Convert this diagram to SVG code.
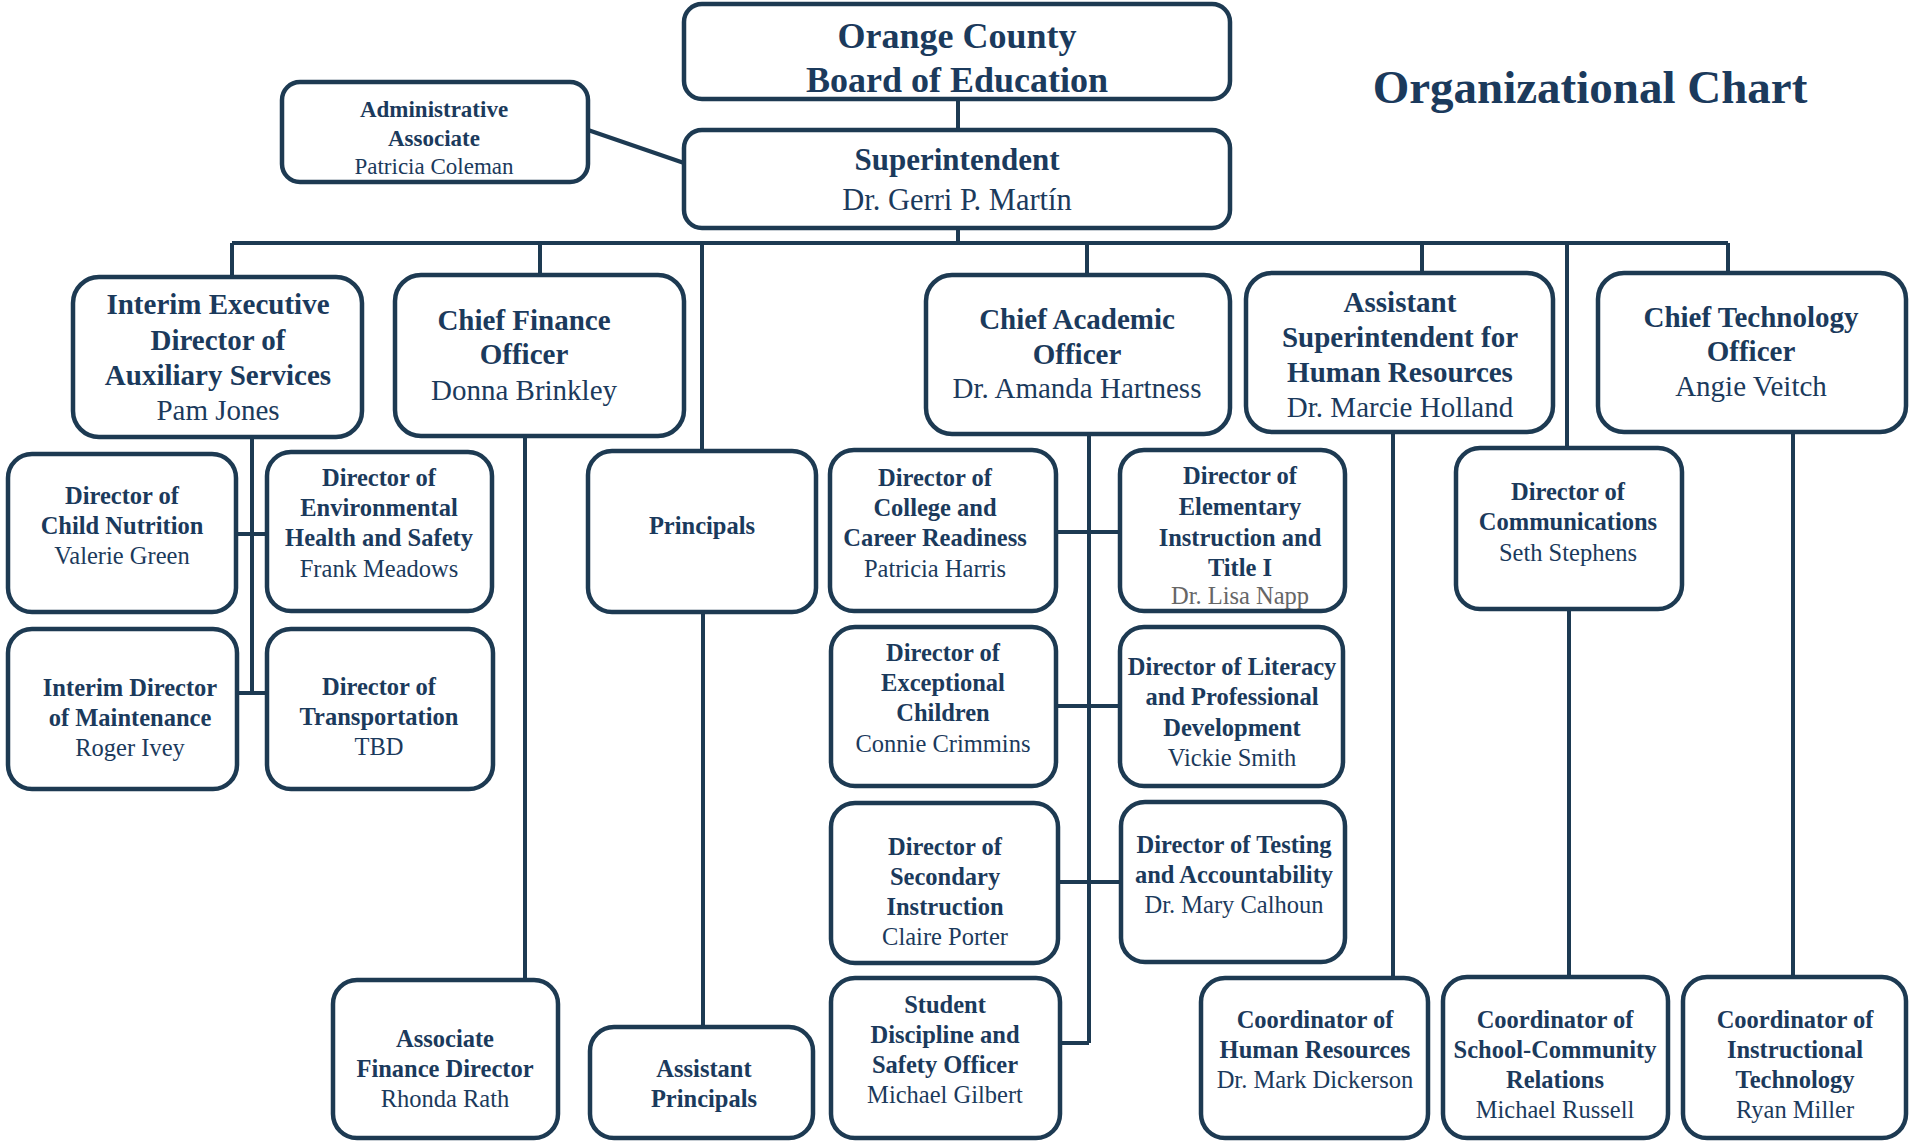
<svg xmlns="http://www.w3.org/2000/svg" width="1909" height="1142" viewBox="0 0 1909 1142">
<style>
.box{fill:#fff;stroke:#1d3a52;stroke-width:4.5}
.ln{fill:none;stroke:#1d3a52;stroke-width:4}
text{font-family:"Liberation Serif","Times New Roman",serif;fill:#1b3a5c;text-anchor:middle}
.b{font-weight:bold}
.t1{font-size:29px}
.t2{font-size:24.5px}
.gr{fill:#666}
</style>
<rect width="1909" height="1142" fill="#fff"/>
<text x="1590" y="103" class="b" style="font-size:47px">Organizational Chart</text>
<g id="connectors">
<path class="ln" d="M958 99V130M588 130L684 163M958 228V243M232 243H1728M232 243V277M540 243V275M702 243V451M1087 243V275M1422 243V273M1567 243V448M1728 243V273"/>
<path class="ln" d="M252 437V693M236 534H267M237 693H267M525 436V980M703 612V1027"/>
<path class="ln" d="M1089 434V1043M1056 532H1120M1056 706H1120M1058 882H1121M1060 1043H1089"/>
<path class="ln" d="M1393 432V978M1569 609V977M1793 432V977"/>
</g>
<g id="board"><rect class="box" x="684" y="4" width="546" height="95" rx="18"/>
<text x="957" y="48" class="b" style="font-size:36px">Orange County</text>
<text x="957" y="92" class="b" style="font-size:36px">Board of Education</text></g>
<g id="superintendent"><rect class="box" x="684" y="130" width="546" height="98" rx="18"/>
<text x="957" y="170" class="b" style="font-size:31px">Superintendent</text>
<text x="957" y="210" style="font-size:30.5px">Dr. Gerri P. Martín</text></g>
<g id="admin"><rect class="box" x="282" y="82" width="306" height="100" rx="18"/>
<text x="434" y="117" class="b" style="font-size:23px">Administrative</text>
<text x="434" y="146" class="b" style="font-size:23px">Associate</text>
<text x="434" y="174" style="font-size:23px">Patricia Coleman</text></g>
<g id="interim-exec"><rect class="box" x="73" y="277" width="289" height="160" rx="26"/>
<text x="218" y="314" class="b t1">Interim Executive</text>
<text x="218" y="350" class="b t1">Director of</text>
<text x="218" y="385" class="b t1">Auxiliary Services</text>
<text x="218" y="420" class="t1">Pam Jones</text></g>
<g id="cfo"><rect class="box" x="395" y="275" width="289" height="161" rx="26"/>
<text x="524" y="330" class="b t1">Chief Finance</text>
<text x="524" y="364" class="b t1">Officer</text>
<text x="524" y="400" class="t1">Donna Brinkley</text></g>
<g id="cao"><rect class="box" x="926" y="275" width="304" height="159" rx="26"/>
<text x="1077" y="329" class="b t1">Chief Academic</text>
<text x="1077" y="364" class="b t1">Officer</text>
<text x="1077" y="398" class="t1">Dr. Amanda Hartness</text></g>
<g id="asst-supt-hr"><rect class="box" x="1246" y="273" width="307" height="159" rx="26"/>
<text x="1400" y="312" class="b t1">Assistant</text>
<text x="1400" y="347" class="b t1">Superintendent for</text>
<text x="1400" y="382" class="b t1">Human Resources</text>
<text x="1400" y="417" class="t1">Dr. Marcie Holland</text></g>
<g id="cto"><rect class="box" x="1598" y="273" width="308" height="159" rx="26"/>
<text x="1751" y="327" class="b t1">Chief Technology</text>
<text x="1751" y="361" class="b t1">Officer</text>
<text x="1751" y="396" class="t1">Angie Veitch</text></g>
<g id="child-nutrition"><rect class="box" x="8" y="454" width="228" height="158" rx="24"/>
<text x="122" y="504" class="b t2">Director of</text>
<text x="122" y="534" class="b t2">Child Nutrition</text>
<text x="122" y="564" class="t2">Valerie Green</text></g>
<g id="env-health"><rect class="box" x="267" y="452" width="225" height="159" rx="24"/>
<text x="379" y="486" class="b t2">Director of</text>
<text x="379" y="516" class="b t2">Environmental</text>
<text x="379" y="546" class="b t2">Health and Safety</text>
<text x="379" y="577" class="t2">Frank Meadows</text></g>
<g id="maintenance"><rect class="box" x="8" y="629" width="229" height="160" rx="24"/>
<text x="130" y="696" class="b t2">Interim Director</text>
<text x="130" y="726" class="b t2">of Maintenance</text>
<text x="130" y="756" class="t2">Roger Ivey</text></g>
<g id="transportation"><rect class="box" x="267" y="629" width="226" height="160" rx="24"/>
<text x="379" y="695" class="b t2">Director of</text>
<text x="379" y="725" class="b t2">Transportation</text>
<text x="379" y="755" class="t2">TBD</text></g>
<g id="principals"><rect class="box" x="588" y="451" width="228" height="161" rx="24"/>
<text x="702" y="534" class="b t2">Principals</text></g>
<g id="college-career"><rect class="box" x="830" y="450" width="226" height="161" rx="24"/>
<text x="935" y="486" class="b t2">Director of</text>
<text x="935" y="516" class="b t2">College and</text>
<text x="935" y="546" class="b t2">Career Readiness</text>
<text x="935" y="577" class="t2">Patricia Harris</text></g>
<g id="elementary"><rect class="box" x="1120" y="450" width="225" height="161" rx="24"/>
<text x="1240" y="484" class="b t2">Director of</text>
<text x="1240" y="515" class="b t2">Elementary</text>
<text x="1240" y="546" class="b t2">Instruction and</text>
<text x="1240" y="576" class="b t2">Title I</text>
<text x="1240" y="604" class="t2 gr">Dr. Lisa Napp</text></g>
<g id="exceptional"><rect class="box" x="831" y="627" width="225" height="159" rx="24"/>
<text x="943" y="661" class="b t2">Director of</text>
<text x="943" y="691" class="b t2">Exceptional</text>
<text x="943" y="721" class="b t2">Children</text>
<text x="943" y="752" class="t2">Connie Crimmins</text></g>
<g id="literacy"><rect class="box" x="1120" y="627" width="223" height="159" rx="24"/>
<text x="1232" y="675" class="b t2">Director of Literacy</text>
<text x="1232" y="705" class="b t2">and Professional</text>
<text x="1232" y="736" class="b t2">Development</text>
<text x="1232" y="766" class="t2">Vickie Smith</text></g>
<g id="secondary"><rect class="box" x="831" y="803" width="227" height="160" rx="24"/>
<text x="945" y="855" class="b t2">Director of</text>
<text x="945" y="885" class="b t2">Secondary</text>
<text x="945" y="915" class="b t2">Instruction</text>
<text x="945" y="945" class="t2">Claire Porter</text></g>
<g id="testing"><rect class="box" x="1121" y="802" width="224" height="160" rx="24"/>
<text x="1234" y="853" class="b t2">Director of Testing</text>
<text x="1234" y="883" class="b t2">and Accountability</text>
<text x="1234" y="913" class="t2">Dr. Mary Calhoun</text></g>
<g id="discipline"><rect class="box" x="831" y="978" width="229" height="160" rx="24"/>
<text x="945" y="1013" class="b t2">Student</text>
<text x="945" y="1043" class="b t2">Discipline and</text>
<text x="945" y="1073" class="b t2">Safety Officer</text>
<text x="945" y="1103" class="t2">Michael Gilbert</text></g>
<g id="assoc-finance"><rect class="box" x="333" y="980" width="225" height="158" rx="24"/>
<text x="445" y="1047" class="b t2">Associate</text>
<text x="445" y="1077" class="b t2">Finance Director</text>
<text x="445" y="1107" class="t2">Rhonda Rath</text></g>
<g id="asst-principals"><rect class="box" x="590" y="1027" width="223" height="111" rx="24"/>
<text x="704" y="1077" class="b t2">Assistant</text>
<text x="704" y="1107" class="b t2">Principals</text></g>
<g id="communications"><rect class="box" x="1456" y="448" width="226" height="161" rx="24"/>
<text x="1568" y="500" class="b t2">Director of</text>
<text x="1568" y="530" class="b t2">Communications</text>
<text x="1568" y="561" class="t2">Seth Stephens</text></g>
<g id="coord-hr"><rect class="box" x="1201" y="978" width="227" height="160" rx="24"/>
<text x="1315" y="1028" class="b t2">Coordinator of</text>
<text x="1315" y="1058" class="b t2">Human Resources</text>
<text x="1315" y="1088" class="t2">Dr. Mark Dickerson</text></g>
<g id="coord-school-community"><rect class="box" x="1443" y="977" width="225" height="161" rx="24"/>
<text x="1555" y="1028" class="b t2">Coordinator of</text>
<text x="1555" y="1058" class="b t2">School-Community</text>
<text x="1555" y="1088" class="b t2">Relations</text>
<text x="1555" y="1118" class="t2">Michael Russell</text></g>
<g id="coord-it"><rect class="box" x="1683" y="977" width="223" height="161" rx="24"/>
<text x="1795" y="1028" class="b t2">Coordinator of</text>
<text x="1795" y="1058" class="b t2">Instructional</text>
<text x="1795" y="1088" class="b t2">Technology</text>
<text x="1795" y="1118" class="t2">Ryan Miller</text></g>
</svg>
